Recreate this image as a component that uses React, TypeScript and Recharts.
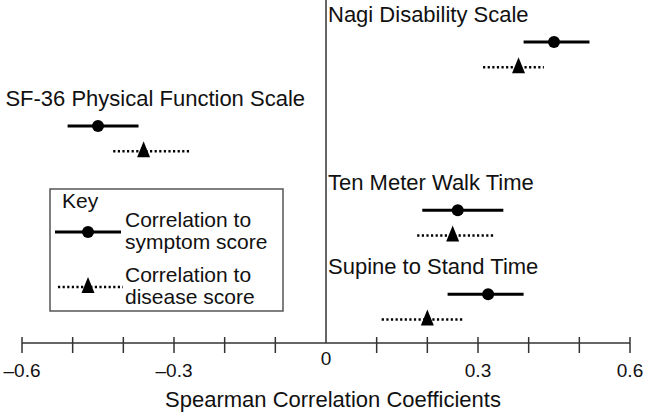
import { ScatterChart, Scatter, XAxis, YAxis, ErrorBar, ReferenceLine, Legend } from 'recharts'

const measures = [
  'Nagi Disability Scale',
  'SF-36 Physical Function Scale',
  'Ten Meter Walk Time',
  'Supine to Stand Time',
]

// correlation to symptom score (point, lower, upper)
const symptomR = [0.45, -0.45, 0.26, 0.32]
const symptomLow = [0.39, -0.51, 0.19, 0.24]
const symptomHigh = [0.52, -0.37, 0.35, 0.39]

// correlation to disease score
const diseaseR = [0.38, -0.36, 0.25, 0.2]
const diseaseLow = [0.31, -0.42, 0.18, 0.11]
const diseaseHigh = [0.43, -0.27, 0.33, 0.27]

const xTicks = [-0.6, -0.5, -0.4, -0.3, -0.2, -0.1, 0, 0.1, 0.2, 0.3, 0.4, 0.5, 0.6]
const labelledTicks = [-0.6, -0.3, 0, 0.3, 0.6]

const FONT = '"Liberation Sans", Arial, Helvetica, sans-serif'
const DOTTED = '2.2 2.4'

const symptomData = measures.map((name, i) => ({
  name,
  x: symptomR[i],
  y: i,
  err: [symptomR[i] - symptomLow[i], symptomHigh[i] - symptomR[i]],
}))

const diseaseData = measures.map((name, i) => ({
  name,
  x: diseaseR[i],
  y: i + 0.3,
  err: [diseaseR[i] - diseaseLow[i], diseaseHigh[i] - diseaseR[i]],
}))

const fmt = (v: number) => (v < 0 ? '\u2013' + Math.abs(v) : String(v))

function AxisTick(props: any) {
  const { x, y, payload } = props
  const v = payload.value
  const isZero = Math.abs(v) < 1e-9
  const labelled = labelledTicks.some((t) => Math.abs(t - v) < 1e-9)
  return (
    <g>
      {!isZero && <line x1={x} x2={x} y1={y - 6} y2={y + 10} stroke="#333" strokeWidth={1.5} />}
      {labelled && (
        <text x={x} y={isZero ? y + 22 : y + 34} textAnchor="middle" fontSize={19} fontFamily={FONT} fill="#111">
          {fmt(v)}
        </text>
      )}
    </g>
  )
}

function SymptomDot(props: any) {
  const { cx, cy, payload } = props
  const left = payload.x < 0
  return (
    <g>
      <circle cx={cx} cy={cy} r={6} fill="#000" />
      <text
        x={left ? 305 : 328}
        y={cy - 20}
        textAnchor={left ? 'end' : 'start'}
        fontSize={22}
        fontFamily={FONT}
        fill="#111"
      >
        {payload.name}
      </text>
    </g>
  )
}

function DiseaseMark(props: any) {
  const { cx, cy } = props
  return <polygon points={`${cx},${cy - 10} ${cx - 6.5},${cy + 6} ${cx + 6.5},${cy + 6}`} fill="#000" />
}

function KeyBox() {
  return (
    <svg width={235} height={124} style={{ display: 'block' }} fontFamily={FONT} fontSize={21} fill="#111">
      <rect x={1} y={1} width={233} height={122} fill="#fff" stroke="#555" strokeWidth={1.5} />
      <text x={13} y={20}>Key</text>
      <line x1={6} x2={72} y1={44} y2={44} stroke="#000" strokeWidth={3} />
      <circle cx={39} cy={44} r={6} fill="#000" />
      <text x={76} y={39}>Correlation to</text>
      <text x={76} y={61}>symptom score</text>
      <line x1={9} x2={74} y1={99} y2={99} stroke="#000" strokeWidth={2.5} strokeDasharray={DOTTED} />
      <polygon points="39,89 32.5,105 45.5,105" fill="#000" />
      <text x={76} y={94}>Correlation to</text>
      <text x={76} y={116}>disease score</text>
    </svg>
  )
}

export default function App() {
  return (
    <div style={{ position: 'absolute', left: 0, top: 0, background: '#fff' }}>
      <ScatterChart
        width={649}
        height={414}
        margin={{ top: 0, right: 19, bottom: 0, left: 22 }}
        style={{ fontFamily: FONT }}
      >
        <XAxis
          type="number"
          dataKey="x"
          domain={[-0.6, 0.6]}
          ticks={xTicks}
          interval={0}
          tick={<AxisTick />}
          tickLine={false}
          tickSize={0}
          tickMargin={0}
          height={71}
          axisLine={{ stroke: '#333', strokeWidth: 1.5 }}
          label={(p: any) => {
            const vb = p.viewBox
            return (
              <text x={vb.x + vb.width / 2 + 7} y={vb.y + 64} textAnchor="middle" fontSize={22} fontFamily={FONT} fill="#111">
                Spearman Correlation Coefficients
              </text>
            )
          }}
        />
        <YAxis type="number" dataKey="y" domain={[-0.5, 3.58]} reversed hide width={0} />
        <ReferenceLine x={0} stroke="#333" strokeWidth={1.5} />
        <Legend
          layout="horizontal"
          verticalAlign="middle"
          align="center"
          content={() => <KeyBox />}
          wrapperStyle={{ left: 49, top: 188, width: 235, height: 124 }}
        />
        <Scatter data={symptomData} shape={<SymptomDot />} isAnimationActive={false}>
          <ErrorBar dataKey="err" direction="x" width={0} stroke="#000" strokeWidth={3} isAnimationActive={false} />
        </Scatter>
        <Scatter data={diseaseData} shape={<DiseaseMark />} isAnimationActive={false}>
          <ErrorBar
            dataKey="err"
            direction="x"
            width={0}
            stroke="#000"
            strokeWidth={2.5}
            strokeDasharray={DOTTED}
            isAnimationActive={false}
          />
        </Scatter>
      </ScatterChart>
    </div>
  )
}
